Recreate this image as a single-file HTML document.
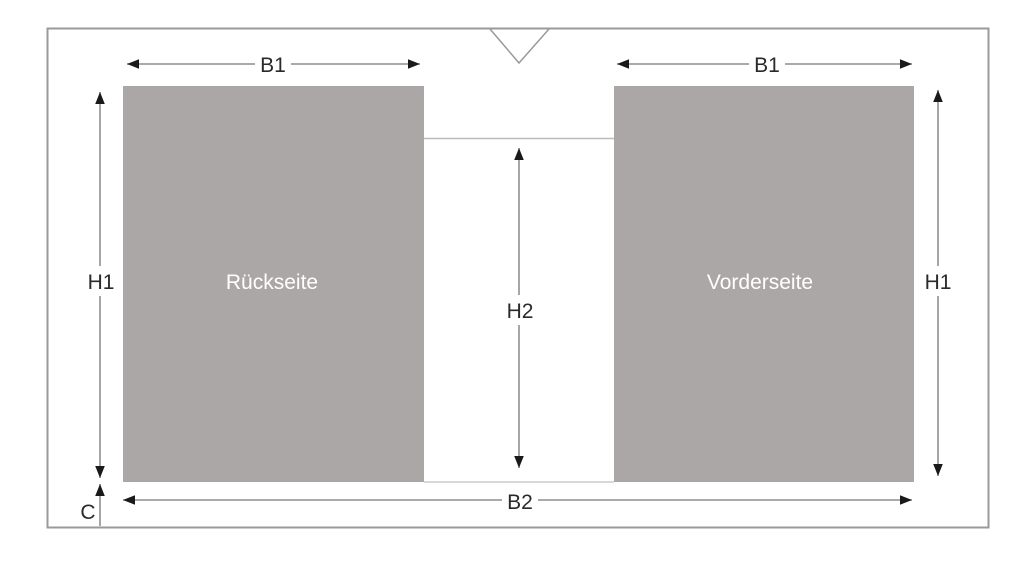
<!DOCTYPE html>
<html><head><meta charset="utf-8"><style>
html,body{margin:0;padding:0;background:#fff;}
svg{display:block;}
text{font-family:"Liberation Sans",sans-serif;}
</style></head><body>
<svg width="1024" height="575" viewBox="0 0 1024 575" xmlns="http://www.w3.org/2000/svg">
<defs>
<marker id="a" viewBox="0 0 10 10" refX="10" refY="5" markerWidth="12" markerHeight="12" markerUnits="userSpaceOnUse" orient="auto-start-reverse">
<path d="M0,1 L10,5 L0,9 Z" fill="#1a1a1a"/></marker>
</defs>
<rect x="0" y="0" width="1024" height="575" fill="#fff"/>
<rect x="47.5" y="28.5" width="941" height="499" fill="none" stroke="#9a9a9a" stroke-width="2"/>
<polyline points="490,29 519,63 549,29" fill="none" stroke="#999" stroke-width="1.5"/>
<rect x="123" y="86" width="301" height="396" fill="#aba7a7"/>
<rect x="614" y="86" width="300" height="396" fill="#aba7a7"/>
<line x1="424" y1="138.5" x2="614" y2="138.5" stroke="#bbb" stroke-width="1.5"/>
<line x1="424" y1="482" x2="614" y2="482" stroke="#ccc" stroke-width="1.5"/>
<g stroke="#777" stroke-width="1.3" fill="none">
<line x1="127" y1="64" x2="420" y2="64" marker-start="url(#a)" marker-end="url(#a)"/>
<line x1="617" y1="64" x2="912" y2="64" marker-start="url(#a)" marker-end="url(#a)"/>
<line x1="100" y1="92" x2="100" y2="478" marker-start="url(#a)" marker-end="url(#a)"/>
<line x1="938" y1="90" x2="938" y2="476" marker-start="url(#a)" marker-end="url(#a)"/>
<line x1="519" y1="148" x2="519" y2="468" marker-start="url(#a)" marker-end="url(#a)"/>
<line x1="123" y1="500" x2="912" y2="500" marker-start="url(#a)" marker-end="url(#a)"/>
<line x1="100" y1="484" x2="100" y2="526" marker-start="url(#a)"/>
</g>
<g fill="#fff">
<rect x="255" y="52" width="36" height="24"/>
<rect x="749" y="52" width="36" height="24"/>
<rect x="84" y="266" width="34" height="30"/>
<rect x="920" y="266" width="36" height="30"/>
<rect x="502" y="295" width="36" height="30"/>
<rect x="502" y="488" width="36" height="24"/>
</g>
<g font-size="21" fill="#2a2a2a" text-anchor="middle">
<text x="273" y="72">B1</text>
<text x="767" y="72">B1</text>
<text x="101" y="289">H1</text>
<text x="938" y="289">H1</text>
<text x="520" y="318">H2</text>
<text x="520" y="509">B2</text>
<text x="88" y="519">C</text>
</g>
<g font-size="21" fill="#fff" text-anchor="middle">
<text x="272" y="289">Rückseite</text>
<text x="760" y="289">Vorderseite</text>
</g>
</svg>
</body></html>
